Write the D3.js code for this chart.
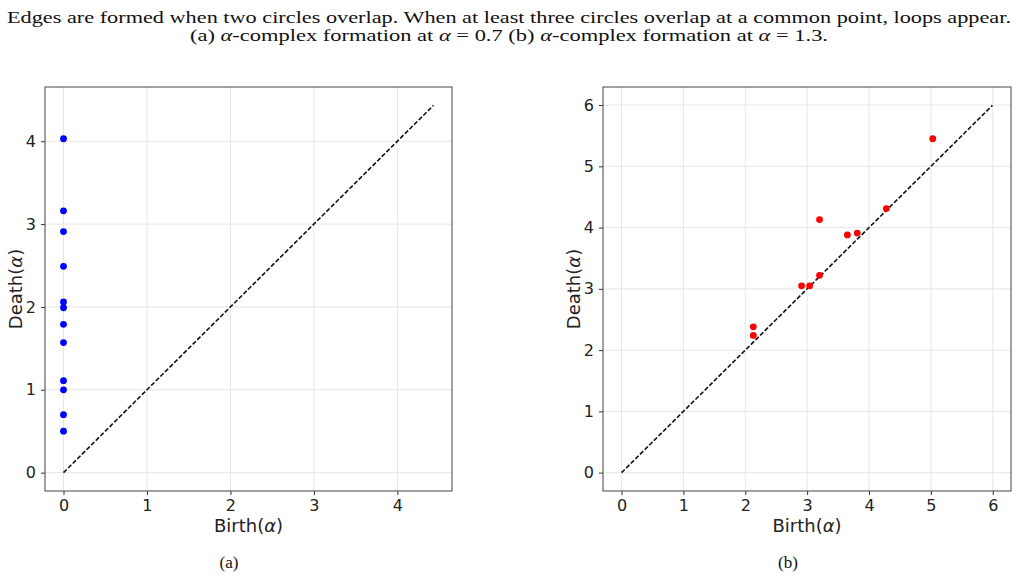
<!DOCTYPE html>
<html lang="en">
<head>
<meta charset="UTF-8">
<title>Persistence diagrams</title>
<script src="https://d3js.org/d3.v7.min.js"></script>
<style>
    body { margin: 0; background: #fff; }
    .caption { font-family: "Liberation Serif", "DejaVu Serif", serif; fill: #111; }
    .tick text { font-family: "DejaVu Sans", sans-serif; font-size: 16px; fill: #222; }
    .axis-label { font-family: "DejaVu Sans", sans-serif; font-size: 18px; fill: #222; }
    .grid line { stroke: #e6e6e6; stroke-width: 1; }
</style>
</head>
<body>
<svg width="1018" height="579"></svg>
<script>
// panel (a): H0 points, all born at 0
const birthA = [0, 0, 0, 0, 0, 0, 0, 0, 0, 0, 0, 0];
const deathA = [4.03, 3.16, 2.91, 2.49, 2.06, 1.99, 1.79, 1.57, 1.11, 1.0, 0.70, 0.50];
const ticksA = [0, 1, 2, 3, 4];

// panel (b): H1 points
const birthB = [2.13, 2.13, 2.91, 3.04, 3.20, 3.20, 3.65, 3.81, 4.28, 5.03];
const deathB = [2.38, 2.24, 3.05, 3.05, 3.22, 4.13, 3.88, 3.91, 4.31, 5.45];
const ticksB = [0, 1, 2, 3, 4, 5, 6];

const svg = d3.select("svg");

// caption text above the figure (segments: [text, italic])
const cap1 = [["Edges are formed when two circles overlap. When at least three circles overlap at a common point, loops appear.", false]];
const cap2 = [["(a) ", false], ["\u03b1", true], ["-complex formation at ", false], ["\u03b1", true], [" = 0.7 (b) ", false],
              ["\u03b1", true], ["-complex formation at ", false], ["\u03b1", true], [" = 1.3.", false]];

function captionLine(parts, y, len) {
    const t = svg.append("text").attr("class", "caption")
        .attr("x", 509).attr("y", y).attr("text-anchor", "middle")
        .attr("font-size", 17)
        .attr("textLength", len).attr("lengthAdjust", "spacingAndGlyphs");
    parts.forEach(p => {
        t.append("tspan").attr("font-style", p[1] ? "italic" : null).text(p[0]);
    });
}
captionLine(cap1, 23, 1004);
captionLine(cap2, 41, 638);

function drawPanel(opts) {
    const { left, right, top, bottom, births, deaths, ticks, color, sub, subX } = opts;
    const pts = births.map((b, i) => ({ b: b, d: deaths[i] }));
    const maxVal = d3.max(deaths) * 1.1;
    const pad = maxVal * 0.05;

    const x = d3.scaleLinear().domain([-pad, maxVal + pad]).range([left, right]);
    const y = d3.scaleLinear().domain([-pad, maxVal + pad]).range([bottom, top]);

    const g = svg.append("g");

    // grid
    g.append("g").attr("class", "grid")
        .selectAll("line").data(ticks).join("line")
        .attr("x1", d => x(d)).attr("x2", d => x(d))
        .attr("y1", top).attr("y2", bottom);
    g.append("g").attr("class", "grid")
        .selectAll("line").data(ticks).join("line")
        .attr("y1", d => y(d)).attr("y2", d => y(d))
        .attr("x1", left).attr("x2", right);

    // axes
    const xa = g.append("g").attr("transform", `translate(0,${bottom})`)
        .call(d3.axisBottom(x).tickValues(ticks).tickFormat(d3.format("d")).tickSize(4).tickPadding(5));
    const ya = g.append("g").attr("transform", `translate(${left},0)`)
        .call(d3.axisLeft(y).tickValues(ticks).tickFormat(d3.format("d")).tickSize(4).tickPadding(5));
    [xa, ya].forEach(a => {
        a.select(".domain").remove();
        a.selectAll(".tick line").attr("stroke", "#333").attr("stroke-width", 1);
    });

    // frame
    g.append("rect").attr("x", left).attr("y", top)
        .attr("width", right - left).attr("height", bottom - top)
        .attr("fill", "none").attr("stroke", "#444").attr("stroke-width", 1);

    // diagonal
    g.append("line")
        .attr("x1", x(0)).attr("y1", y(0))
        .attr("x2", x(maxVal)).attr("y2", y(maxVal))
        .attr("stroke", "#111").attr("stroke-width", 1.6)
        .attr("stroke-dasharray", "4.5,2");

    // points
    g.selectAll("circle").data(pts).join("circle")
        .attr("cx", d => x(d.b)).attr("cy", d => y(d.d))
        .attr("r", 3.4).attr("fill", color);

    // axis labels
    const bl = g.append("text").attr("class", "axis-label")
        .attr("x", (left + right) / 2).attr("y", bottom + 41)
        .attr("text-anchor", "middle");
    bl.append("tspan").text("Birth(");
    bl.append("tspan").attr("font-style", "italic").text("\u03b1");
    bl.append("tspan").text(")");

    const dl = g.append("text").attr("class", "axis-label")
        .attr("transform", `translate(${left - 23},${(top + bottom) / 2}) rotate(-90)`)
        .attr("text-anchor", "middle");
    dl.append("tspan").text("Death(");
    dl.append("tspan").attr("font-style", "italic").text("\u03b1");
    dl.append("tspan").text(")");

    // sub caption
    svg.append("text").attr("class", "caption")
        .attr("x", subX).attr("y", 568).attr("text-anchor", "middle")
        .attr("font-size", 17).text(sub);
}

drawPanel({ left: 45, right: 452, top: 87, bottom: 491,
    births: birthA, deaths: deathA, ticks: ticksA, color: "#0000ff", sub: "(a)", subX: 229 });
drawPanel({ left: 603, right: 1011, top: 87, bottom: 491,
    births: birthB, deaths: deathB, ticks: ticksB, color: "#ff0000", sub: "(b)", subX: 788 });
</script>
</body>
</html>
